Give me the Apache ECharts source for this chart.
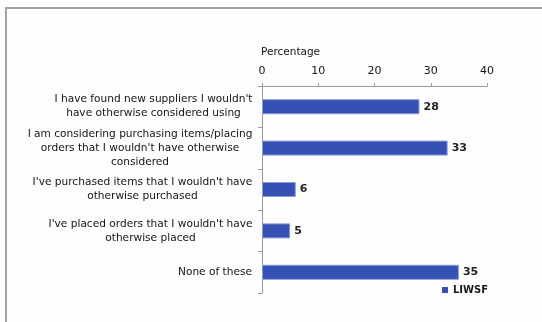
<!DOCTYPE html>
<html><head><meta charset="utf-8">
<script src="https://cdn.jsdelivr.net/npm/echarts@6/dist/echarts.min.js"></script>
<style>html,body{margin:0;padding:0;background:#fff}#c{width:542px;height:322px}</style>
</head><body><div id="c"></div>
<script>
const categories = [
  "I have found new suppliers I wouldn't\nhave otherwise considered using",
  "I am considering purchasing items/placing\norders that I wouldn't have otherwise\nconsidered",
  "I've purchased items that I wouldn't have\notherwise purchased",
  "I've placed orders that I wouldn't have\notherwise placed",
  "None of these"
];
const values = [28, 33, 6, 5, 35];
const seriesName = "LIWSF";
const axisName = "Percentage";

const chart = echarts.init(document.getElementById('c'), null, {renderer:'canvas'});
const font = 'DejaVu Sans, Verdana, sans-serif';
const labelSize = 10.6;

// per-label rich styles: each label block is right-aligned, its lines centred within the block
const ctx = document.createElement('canvas').getContext('2d');
ctx.font = labelSize + 'px ' + font;
const rich = {};
categories.forEach((c, i) => {
  const w = Math.max(...c.split('\n').map(l => ctx.measureText(l).width));
  rich['c' + i] = { fontFamily: font, fontSize: labelSize, color: '#141414', lineHeight: 14, width: Math.ceil(w) + 1, align: 'center' };
});

chart.setOption({
  backgroundColor: '#fdfdfd',
  animation: false,
  graphic: [{
    type: 'polyline', silent: true,
    shape: { points: [[6, 322], [6, 8], [542, 8]] },
    style: { stroke: '#a3a3a3', lineWidth: 2, fill: null }
  }],
  grid: { left: 262, right: 55, top: 86, bottom: 29, containLabel: false },
  legend: {
    data: [seriesName], left: 437, top: 280, itemWidth: 6, itemHeight: 6, itemGap: 4,
    icon: 'rect',
    itemStyle: { borderWidth: 0 },
    textStyle: { fontFamily: font, fontSize: 10, color: '#1a1a1a', fontWeight: 'bold' }
  },
  xAxis: {
    type: 'value', position: 'top', min: 0, max: 40, interval: 10,
    name: axisName, nameLocation: 'start', nameGap: 0,
    nameTextStyle: { fontFamily: font, fontSize: 10.5, color: '#141414', align: 'left', verticalAlign: 'bottom', padding: [0, 0, 28, -1] },
    axisLine: { show: true, lineStyle: { color: '#9a9a9a', width: 1 } },
    axisTick: { show: true, inside: false, length: 3, lineStyle: { color: '#9a9a9a' } },
    axisLabel: { fontFamily: font, fontSize: 11, color: '#141414', margin: 9 },
    splitLine: { show: false }
  },
  yAxis: {
    type: 'category', data: categories, inverse: true,
    axisLine: { show: true, lineStyle: { color: '#9a9a9a', width: 1 } },
    axisTick: { show: true, length: 4, lineStyle: { color: '#9a9a9a' } },
    axisLabel: {
      margin: 9, align: 'right',
      formatter: (v, i) => v.split('\n').map(l => '{c' + i + '|' + l + '}').join('\n'),
      rich: rich
    },
    splitLine: { show: false }
  },
  series: [{
    name: seriesName, type: 'bar', data: values, barWidth: 15,
    itemStyle: { color: '#3451b3', borderColor: '#8a9bd8', borderWidth: 1 },
    label: { show: true, position: 'right', distance: 4, fontFamily: font, fontSize: 11, fontWeight: 'bold', color: '#222' }
  }]
});
</script></body></html>
